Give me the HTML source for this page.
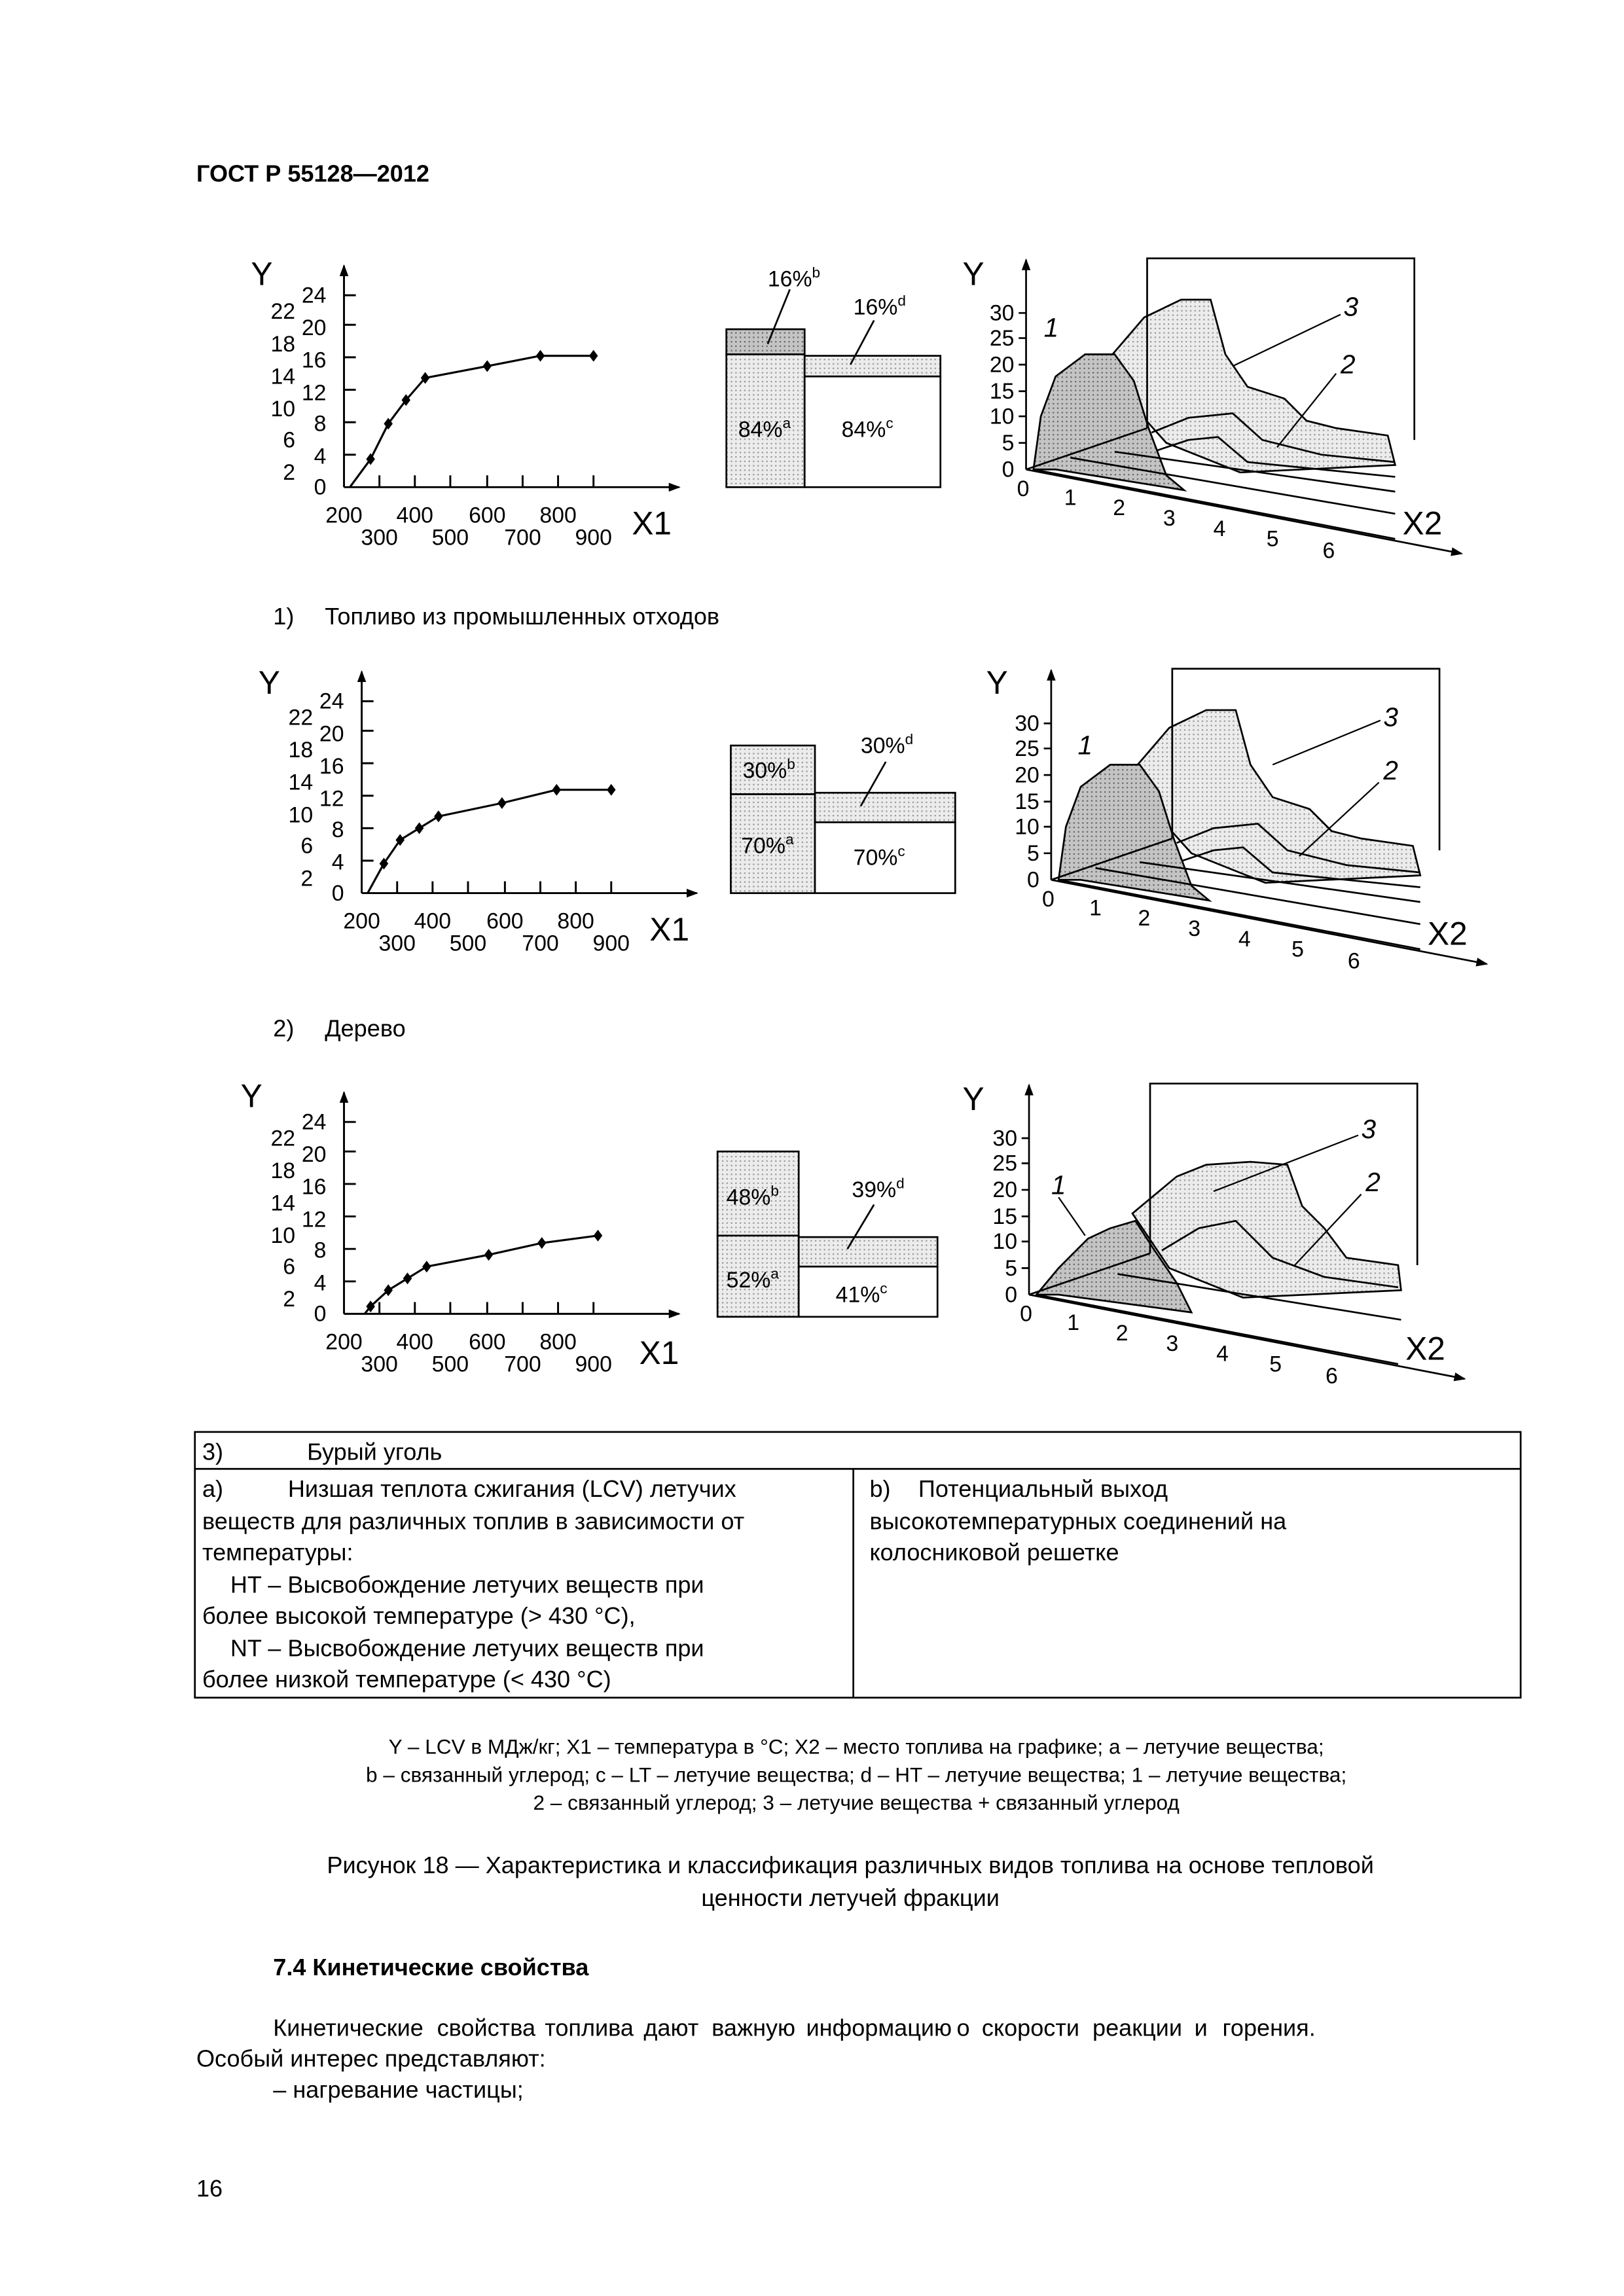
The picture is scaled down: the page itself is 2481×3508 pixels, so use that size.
<!DOCTYPE html>
<html><head><meta charset="utf-8"><style>
html,body{margin:0;padding:0;background:#fff}
svg{display:block}
text{font-family:"Liberation Sans",Arial,sans-serif;fill:#000}
</style></head><body>
<svg width="2481" height="3508" viewBox="0 0 1100 1555.3" xmlns="http://www.w3.org/2000/svg">
<defs>
<pattern id="dk" width="3" height="3" patternUnits="userSpaceOnUse"><rect width="3" height="3" fill="#c4c4c4"/><rect width="1" height="1" fill="#666"/></pattern>
<pattern id="lt" width="3" height="3" patternUnits="userSpaceOnUse"><rect width="3" height="3" fill="#ececec"/><rect width="1" height="1" fill="#999"/></pattern>
<marker id="ar" markerWidth="8" markerHeight="8" refX="7" refY="4" orient="auto" markerUnits="userSpaceOnUse"><path d="M0,1 L8,4 L0,7 Z" fill="#000"/></marker>

<g id="lc" stroke="#000" stroke-width="1.3" fill="none">
  <line x1="0" y1="0" x2="0" y2="-150" marker-end="url(#ar)"/>
  <line x1="0" y1="0" x2="227" y2="0" marker-end="url(#ar)"/>
  <path d="M0,-22H8M0,-44H8M0,-66H8M0,-88H8M0,-110H8M0,-130H8"/>
  <path d="M24,0V-8M48,0V-8M72,0V-8M97,0V-8M121,0V-8M145,0V-8M169,0V-8"/>
</g>
<g id="lct" font-size="15" text-anchor="end">
  <text x="-12" y="-125">24</text><text x="-12" y="-103">20</text><text x="-12" y="-81">16</text><text x="-12" y="-59">12</text><text x="-12" y="-38">8</text><text x="-12" y="-16">4</text><text x="-12" y="5">0</text>
  <text x="-33" y="-114">22</text><text x="-33" y="-92">18</text><text x="-33" y="-70">14</text><text x="-33" y="-48">10</text><text x="-33" y="-27">6</text><text x="-33" y="-5">2</text>
</g>
<g id="lcx" font-size="15" text-anchor="middle">
  <text x="0" y="24">200</text><text x="48" y="24">400</text><text x="97" y="24">600</text><text x="145" y="24">800</text>
  <text x="24" y="39">300</text><text x="72" y="39">500</text><text x="121" y="39">700</text><text x="169" y="39">900</text>
</g>

<g id="ax3">
  <g stroke="#000" stroke-width="1.2" fill="none">
    <line x1="0" y1="0" x2="0" y2="-142" marker-end="url(#ar)"/>
    <line x1="0" y1="0" x2="295" y2="57" marker-end="url(#ar)"/>
    <path d="M0,-18h-5M0,-36h-5M0,-53h-5M0,-71h-5M0,-89h-5M0,-106h-5"/>
    <path d="M82,-28V-143H263V-20"/>
    <path d="M0,0L82,-28"/>
  </g>
  <g font-size="15" text-anchor="end">
    <text x="-8" y="-101">30</text><text x="-8" y="-84">25</text><text x="-8" y="-66">20</text><text x="-8" y="-48">15</text><text x="-8" y="-31">10</text><text x="-8" y="-13">5</text><text x="-8" y="5">0</text>
  </g>
  <g font-size="15" text-anchor="middle">
    <text x="-2" y="18">0</text><text x="30" y="24">1</text><text x="63" y="31">2</text><text x="97" y="38">3</text><text x="131" y="45">4</text><text x="167" y="52">5</text><text x="205" y="60">6</text>
  </g>
  <text x="255" y="44" font-size="22">X2</text>
</g>
<g id="rb" stroke="#000" stroke-width="1.2">
  <path d="M50,-68L80,-103L105,-115L125,-115L135,-78L150,-56L175,-48L190,-33L210,-28L245,-23L250,-3L145,2L95,-18Z" fill="url(#lt)"/>
  <path d="M85,-25L110,-35L140,-38L160,-20L200,-10L250,-5" fill="none"/>
  <path d="M80,-10L110,-20L130,-22L150,-5L250,5" fill="none"/>
  <path d="M5,0L10,-36L20,-63L40,-78L60,-78L73,-60L83,-28L95,4L107,14L20,0Z" fill="url(#dk)"/>
  <path d="M5,0L250,47M30,-8L250,30M60,-12L250,15" fill="none"/>
</g>
<g id="rb3" stroke="#000" stroke-width="1.2">
  <path d="M70,-55L100,-80L120,-88L150,-90L175,-88L185,-60L200,-45L215,-25L250,-20L252,-3L145,2L95,-18Z" fill="url(#lt)"/>
  <path d="M90,-30L115,-45L140,-50L165,-25L200,-12L250,-5" fill="none"/>
  <path d="M5,0L20,-18L40,-38L55,-45L72,-50L85,-30L100,-8L110,12L20,0Z" fill="url(#dk)"/>
  <path d="M5,0L250,47M60,-14L252,17" fill="none"/>
</g>
</defs>

<text x="133" y="123" font-size="16" font-weight="bold">ГОСТ Р 55128—2012</text>

<!-- Chart 1 -->
<text x="170" y="193" font-size="22">Y</text>
<g transform="translate(233,330)"><use href="#lc"/><use href="#lct"/><use href="#lcx"/>
<polyline points="4,0 18,-19 30,-43 42,-59 55,-74 97,-82 133,-89 169,-89" fill="none" stroke="#000" stroke-width="1.4"/>
<g fill="#000"><path d="M18,-23l3,4l-3,4l-3,-4z M30,-47l3,4l-3,4l-3,-4z M42,-63l3,4l-3,4l-3,-4z M55,-78l3,4l-3,4l-3,-4z M97,-86l3,4l-3,4l-3,-4z M133,-93l3,4l-3,4l-3,-4z M169,-93l3,4l-3,4l-3,-4z"/></g>
<text x="195" y="32" font-size="22">X1</text></g>

<g stroke="#000" stroke-width="1.2">
<rect x="492" y="223" width="53" height="17" fill="url(#dk)"/>
<rect x="492" y="240" width="53" height="90" fill="url(#lt)"/>
<rect x="545" y="241" width="92" height="14" fill="url(#lt)"/>
<rect x="545" y="255" width="92" height="75" fill="#fff"/>
<line x1="520" y1="233" x2="535" y2="196"/><line x1="576" y1="247" x2="592" y2="217"/>
</g>
<text x="520" y="194" font-size="15">16%<tspan font-size="10" dy="-6">b</tspan></text>
<text x="578" y="213" font-size="15">16%<tspan font-size="10" dy="-6">d</tspan></text>
<text x="500" y="296" font-size="15">84%<tspan font-size="10" dy="-6">a</tspan></text>
<text x="570" y="296" font-size="15">84%<tspan font-size="10" dy="-6">c</tspan></text>

<text x="652" y="193" font-size="22">Y</text>
<g transform="translate(695,318)"><use href="#rb"/><use href="#ax3"/>
<text x="12" y="-90" font-size="18" font-style="italic">1</text>
<text x="215" y="-104" font-size="18" font-style="italic">3</text>
<text x="213" y="-65" font-size="18" font-style="italic">2</text>
<path d="M213,-105L140,-70M210,-65L170,-15" stroke="#000" fill="none"/></g>

<text x="185" y="423" font-size="16">1)</text><text x="220" y="423" font-size="16">Топливо из промышленных отходов</text>

<!-- Chart 2 -->
<text x="175" y="470" font-size="22">Y</text>
<g transform="translate(245,605)"><use href="#lc"/><use href="#lct"/><use href="#lcx"/>
<polyline points="4,0 15,-20 26,-36 39,-44 52,-52 95,-61 132,-70 169,-70" fill="none" stroke="#000" stroke-width="1.4"/>
<g fill="#000"><path d="M15,-24l3,4l-3,4l-3,-4z M26,-40l3,4l-3,4l-3,-4z M39,-48l3,4l-3,4l-3,-4z M52,-56l3,4l-3,4l-3,-4z M95,-65l3,4l-3,4l-3,-4z M132,-74l3,4l-3,4l-3,-4z M169,-74l3,4l-3,4l-3,-4z"/></g>
<text x="195" y="32" font-size="22">X1</text></g>

<g stroke="#000" stroke-width="1.2">
<rect x="495" y="505" width="57" height="33" fill="url(#lt)"/>
<rect x="495" y="538" width="57" height="67" fill="url(#lt)"/>
<rect x="552" y="537" width="95" height="20" fill="url(#lt)"/>
<rect x="552" y="557" width="95" height="48" fill="#fff"/>
<line x1="583" y1="546" x2="600" y2="516"/>
</g>
<text x="503" y="527" font-size="15">30%<tspan font-size="10" dy="-6">b</tspan></text>
<text x="583" y="510" font-size="15">30%<tspan font-size="10" dy="-6">d</tspan></text>
<text x="502" y="578" font-size="15">70%<tspan font-size="10" dy="-6">a</tspan></text>
<text x="578" y="586" font-size="15">70%<tspan font-size="10" dy="-6">c</tspan></text>

<text x="668" y="470" font-size="22">Y</text>
<g transform="translate(712,596)"><use href="#rb"/><use href="#ax3"/>
<text x="18" y="-85" font-size="18" font-style="italic">1</text>
<text x="225" y="-104" font-size="18" font-style="italic">3</text>
<text x="225" y="-68" font-size="18" font-style="italic">2</text>
<path d="M223,-108L150,-78M222,-66L168,-16" stroke="#000" fill="none"/></g>

<text x="185" y="702" font-size="16">2)</text><text x="220" y="702" font-size="16">Дерево</text>

<!-- Chart 3 -->
<text x="163" y="750" font-size="22">Y</text>
<g transform="translate(233,890)"><use href="#lc"/><use href="#lct"/><use href="#lcx"/>
<polyline points="14,0 18,-5 30,-16 43,-24 56,-32 98,-40 134,-48 172,-53" fill="none" stroke="#000" stroke-width="1.4"/>
<g fill="#000"><path d="M18,-9l3,4l-3,4l-3,-4z M30,-20l3,4l-3,4l-3,-4z M43,-28l3,4l-3,4l-3,-4z M56,-36l3,4l-3,4l-3,-4z M98,-44l3,4l-3,4l-3,-4z M134,-52l3,4l-3,4l-3,-4z M172,-57l3,4l-3,4l-3,-4z"/></g>
<text x="200" y="34" font-size="22">X1</text></g>

<g stroke="#000" stroke-width="1.2">
<rect x="486" y="780" width="55" height="57" fill="url(#lt)"/>
<rect x="486" y="837" width="55" height="55" fill="url(#lt)"/>
<rect x="541" y="838" width="94" height="20" fill="url(#lt)"/>
<rect x="541" y="858" width="94" height="34" fill="#fff"/>
<line x1="574" y1="846" x2="592" y2="816"/>
</g>
<text x="492" y="816" font-size="15">48%<tspan font-size="10" dy="-6">b</tspan></text>
<text x="577" y="811" font-size="15">39%<tspan font-size="10" dy="-6">d</tspan></text>
<text x="492" y="872" font-size="15">52%<tspan font-size="10" dy="-6">a</tspan></text>
<text x="566" y="882" font-size="15">41%<tspan font-size="10" dy="-6">c</tspan></text>

<text x="652" y="752" font-size="22">Y</text>
<g transform="translate(697,877)"><use href="#rb3"/><use href="#ax3"/>
<text x="15" y="-68" font-size="18" font-style="italic">1</text>
<text x="225" y="-106" font-size="18" font-style="italic">3</text>
<text x="228" y="-70" font-size="18" font-style="italic">2</text>
<path d="M223,-108L125,-70M225,-68L180,-20M20,-66L38,-40" stroke="#000" fill="none"/></g>

<!-- Table -->
<g stroke="#000" stroke-width="1.2" fill="none">
<rect x="132" y="970" width="898" height="180"/>
<line x1="132" y1="995" x2="1030" y2="995"/>
<line x1="578" y1="995" x2="578" y2="1150"/>
</g>
<g font-size="16">
<text x="137" y="989">3)</text><text x="208" y="989">Бурый уголь</text>
<text x="137" y="1014">a)</text><text x="195" y="1014">Низшая теплота сжигания (LCV) летучих</text>
<text x="137" y="1036">веществ для различных топлив в зависимости от</text>
<text x="137" y="1057">температуры:</text>
<text x="156" y="1079">HT – Высвобождение летучих веществ при</text>
<text x="137" y="1100">более высокой температуре (&gt; 430 °C),</text>
<text x="156" y="1122">NT – Высвобождение летучих веществ при</text>
<text x="137" y="1143">более низкой температуре (&lt; 430 °C)</text>
<text x="589" y="1014">b)</text><text x="622" y="1014">Потенциальный выход</text>
<text x="589" y="1036">высокотемпературных соединений на</text>
<text x="589" y="1057">колосниковой решетке</text>
</g>

<g font-size="14" text-anchor="middle">
<text x="580" y="1188">Y – LCV в МДж/кг; X1 – температура в °C; X2 – место топлива на графике; a – летучие вещества;</text>
<text x="580" y="1207">b – связанный углерод; c – LT – летучие вещества; d – HT – летучие вещества; 1 – летучие вещества;</text>
<text x="580" y="1226">2 – связанный углерод; 3 – летучие вещества + связанный углерод</text>
</g>
<g font-size="16" text-anchor="middle">
<text x="576" y="1269">Рисунок 18 — Характеристика и классификация различных видов топлива на основе тепловой</text>
<text x="576" y="1291">ценности летучей фракции</text>
</g>
<text x="185" y="1338" font-size="16" font-weight="bold">7.4 Кинетические свойства</text>
<g font-size="16">
<text x="185" y="1379">Кинетические</text>
<text x="296" y="1379">свойства</text>
<text x="369" y="1379">топлива</text>
<text x="436" y="1379">дают</text>
<text x="482" y="1379">важную</text>
<text x="546" y="1379">информацию</text>
<text x="648" y="1379">о</text>
<text x="665" y="1379">скорости</text>
<text x="740" y="1379">реакции</text>
<text x="809" y="1379">и</text>
<text x="828" y="1379" text-anchor="start">горения.</text>
</g>
<text x="133" y="1400" font-size="16">Особый интерес представляют:</text>
<text x="185" y="1421" font-size="16">– нагревание частицы;</text>
<text x="133" y="1488" font-size="16">16</text>
</svg>
</body></html>
